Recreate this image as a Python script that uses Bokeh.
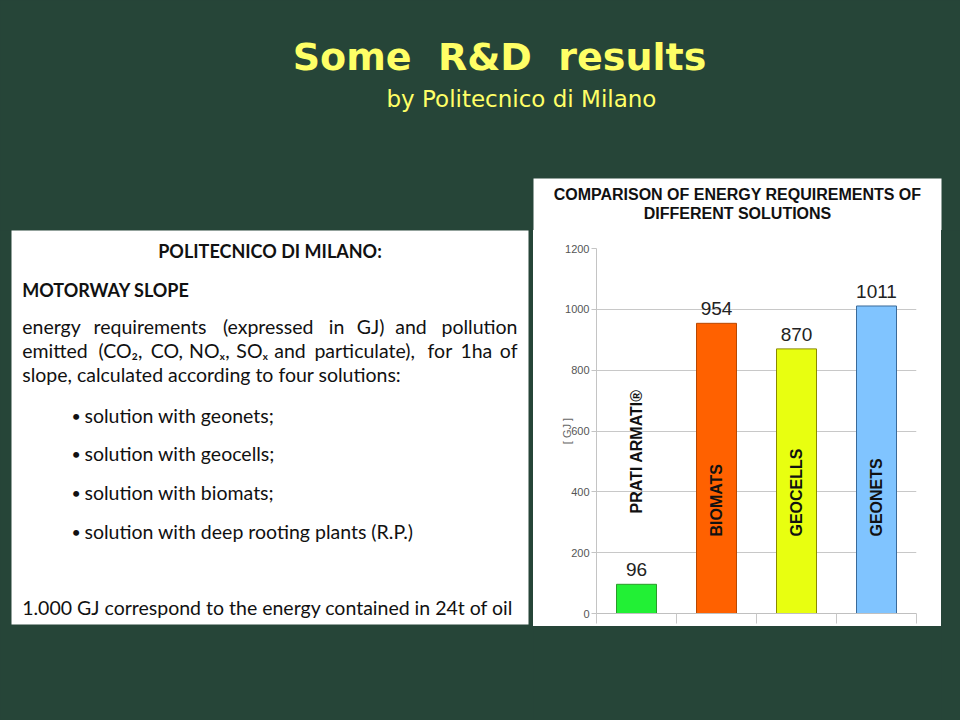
import numpy as np
from bokeh.plotting import figure
from bokeh.layouts import row, column
from bokeh.models import Range1d, FixedTicker, ColumnDataSource
from bokeh.core.properties import value
from bokeh.embed import file_html
from bokeh.resources import INLINE

# ---- data ----
categories = ["PRATI ARMATI®", "BIOMATS", "GEOCELLS", "GEONETS"]
energy_gj = [96, 954, 870, 1011]
bar_colors = ["#22F035", "#FF6100", "#E8FF10", "#80C4FF"]
bar_outlines = ["#2A9A2A", "#B84800", "#8A8A00", "#3A6A99"]
y_ticks = [0, 200, 400, 600, 800, 1000, 1200]
x_ticks = [0, 1, 2, 3, 4]

BG = "#264538"
YELLOW = "#FFFF66"
BODY_FONT = value("Lato")


def canvas(w, h, xr, yr, fill):
    p = figure(width=w, height=h, x_range=Range1d(*xr), y_range=Range1d(*yr),
               x_axis_type=None, y_axis_type=None, toolbar_location=None,
               output_backend="svg", min_border=0)
    p.background_fill_color = fill
    p.border_fill_color = fill
    p.outline_line_color = None
    p.title.visible = False
    return p


# ---- slide header + chart title strip (slide pixel coordinates, y downwards) ----
top = canvas(960, 230, (0, 960), (230, 0), BG)
top.quad(left=[533], right=[941], top=[178], bottom=[250],
         fill_color="white", line_color=None)
top.text(x=[499], y=[56], text=["Some\u00a0 R&D\u00a0 results"], text_align="center",
         text_baseline="middle", text_font=value("DejaVu Sans"), text_font_style="bold",
         text_font_size="38px", text_color=YELLOW)
top.text(x=[386], y=[98], text=["by Politecnico di Milano"], text_align="left",
         text_baseline="middle", text_font=value("DejaVu Sans"),
         text_font_size="23px", text_color=YELLOW)
top.text(x=[737, 737], y=[194, 212.5],
         text=["COMPARISON OF ENERGY REQUIREMENTS OF", "DIFFERENT SOLUTIONS"],
         text_align="center", text_baseline="middle", text_font=value("Liberation Sans"),
         text_font_style="bold", text_font_size="16px", text_color="#111111")

# ---- left text box ----
left = canvas(533, 490, (0, 533), (720, 230), BG)
left.quad(left=[11], right=[528], top=[220], bottom=[624], fill_color="white", line_color=None)


def txt(p, xs, y, words, size="19.5px", bold=False, align="left"):
    p.text(x=xs, y=[y] * len(xs), text=words, text_align=align, text_baseline="middle",
           text_font=BODY_FONT, text_font_size=size,
           text_font_style="bold" if bold else "normal", text_color="#111111")


txt(left, [269.5], 250.5, ["POLITECNICO DI MILANO:"], size="18px", bold=True, align="center")
txt(left, [21.7], 289.5, ["MOTORWAY SLOPE"], size="18px", bold=True)
txt(left, [21.7, 93, 222.4, 328.3, 356.2, 394.7], 325.5,
    ["energy", "requirements", "(expressed", "in", "GJ)", "and"])
txt(left, [517], 325.5, ["pollution"], align="right")
txt(left, [21.7, 97.9, 150.2, 188.6, 235.8, 273.7, 313.9, 427.1, 459.9], 349.5,
    ["emitted", "(CO₂,", "CO,", "NOₓ,", "SOₓ", "and", "particulate),", "for", "1ha"])
txt(left, [517], 349.5, ["of"], align="right")
txt(left, [21.7], 373.5, ["slope, calculated according to four solutions:"])
bullets = ["solution with geonets;", "solution with geocells;", "solution with biomats;",
           "solution with deep rooting plants (R.P.)"]
for i, b in enumerate(bullets):
    yb = 414.7 + i * 38.7
    txt(left, [71], yb, ["•"], size="16px")
    txt(left, [84], yb, [b])
txt(left, [21.7], 606.7, ["1.000 GJ correspond to the energy contained in 24t of oil"])

# ---- chart ----
chart = figure(width=408, height=396, x_range=Range1d(0, 4), y_range=Range1d(0, 1200),
               toolbar_location=None, output_backend="svg",
               min_border_left=63, min_border_right=25, min_border_top=18, min_border_bottom=13)
chart.background_fill_color = "white"
chart.border_fill_color = "white"
chart.outline_line_color = None
chart.title.visible = False

chart.xaxis.ticker = FixedTicker(ticks=x_ticks)
chart.xaxis.major_label_overrides = {t: "" for t in x_ticks}
chart.xaxis.major_label_standoff = 0
chart.xaxis.major_tick_out = 10
chart.xaxis.major_tick_in = 0
chart.xaxis.minor_tick_line_color = None
chart.xaxis.axis_line_color = "#C0C0C0"
chart.xaxis.major_tick_line_color = "#C8C8C8"
chart.xgrid.visible = False

chart.yaxis.ticker = FixedTicker(ticks=y_ticks)
chart.yaxis.major_tick_out = 5
chart.yaxis.major_tick_in = 0
chart.yaxis.minor_tick_line_color = None
chart.yaxis.axis_line_color = "#C4C4C4"
chart.yaxis.major_tick_line_color = "#C4C4C4"
chart.yaxis.major_label_text_font = "Liberation Sans"
chart.yaxis.major_label_text_font_size = "11px"
chart.yaxis.major_label_text_color = "#555555"
chart.yaxis.major_label_standoff = 2
chart.yaxis.axis_label = "[ GJ ]"
chart.yaxis.axis_label_text_font = "Liberation Sans"
chart.yaxis.axis_label_text_font_size = "11px"
chart.yaxis.axis_label_text_font_style = "normal"
chart.yaxis.axis_label_text_color = "#666666"
chart.yaxis.axis_label_standoff = -11
chart.ygrid.grid_line_color = "#C8C8C8"

xs = np.arange(len(categories)) + 0.5
src = ColumnDataSource(dict(
    x=xs, top=energy_gj, color=bar_colors, line=bar_outlines,
    label=[str(v) for v in energy_gj], cat=categories,
    cat_y=[v + 233 if v < 253 else 253 for v in energy_gj],
))
chart.vbar(x="x", top="top", bottom=0, width=0.5, fill_color="color", line_color="line",
           line_width=1, source=src)
chart.text(x="x", y="top", text="label", y_offset=-8, text_align="center",
           text_baseline="bottom", text_font=value("Liberation Sans"),
           text_font_size="19px", text_color="#222222", source=src)
chart.text(x="x", y="cat_y", text="cat", angle=np.pi / 2, text_align="left",
           text_baseline="middle", text_font=value("Liberation Sans"), text_font_style="bold",
           text_font_size="16px", text_color="#111111", source=src)

bottom_fill = canvas(408, 94, (0, 1), (0, 1), BG)
right_fill = canvas(19, 490, (0, 1), (0, 1), BG)

chart_panel = column(chart, styles={"background-color": "white"})
chart_col = column(chart_panel, bottom_fill, styles={"background-color": BG})
mid = row(left, chart_col, right_fill, styles={"background-color": BG})
page = column(top, mid, styles={"background-color": BG})

open("out.html", "w").write(file_html(page, INLINE))
